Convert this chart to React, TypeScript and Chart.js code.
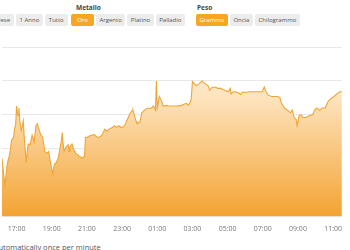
import React, { useEffect, useRef } from "react";
import { Chart, registerables } from "chart.js";

Chart.register(...registerables);

const times: string[] = [
  "16:10","16:15","16:20","16:23","16:27","16:30","16:37","16:40","16:43","16:50","16:53","16:57",
  "17:00","17:03","17:05","17:08","17:11","17:16","17:20","17:23","17:26","17:33","17:36","17:40","17:46","17:50","17:53",
  "18:00","18:06","18:11","18:16","18:23","18:29","18:36","18:43","18:49","18:56",
  "19:03","19:09","19:16","19:22","19:29","19:32","19:36","19:39","19:42","19:49","19:56","19:59",
  "20:02","20:09","20:15","20:22","20:29","20:35","20:45","20:52","20:55",
  "21:02","21:08","21:15","21:25","21:35","21:42","21:51","21:58",
  "22:01","22:08","22:15","22:25","22:35","22:41","22:48","22:58",
  "23:08","23:14","23:21","23:28","23:34","23:37","23:44","23:51","23:54",
  "00:01","00:07","00:17","00:27","00:34","00:40","00:47","00:54","00:57",
  "01:00","01:07","01:14","01:20","01:30","01:40","01:50",
  "02:07","02:23","02:33","02:40","02:46","02:53","02:56",
  "03:00","03:06","03:13","03:23","03:33","03:43","03:53","03:59",
  "04:06","04:19","04:26","04:36","04:46","04:52",
  "05:02","05:09","05:12","05:19","05:25","05:35","05:45","05:52","05:59",
  "06:15","06:32","06:48","06:58",
  "07:05","07:11","07:18","07:31","07:48","07:58",
  "08:04","08:14","08:24","08:34","08:41","08:47","08:54","08:57",
  "09:04","09:11","09:17","09:27","09:40","09:50","09:57",
  "10:04","10:14","10:23","10:33","10:43","10:53",
  "11:03","11:13","11:23","11:30",
];

const prices: number[] = [
  53.36,53.17,52.96,53.06,53.24,53.31,53.43,53.53,53.63,53.67,53.79,53.86,
  54.13,54.03,53.99,54.10,53.91,53.77,53.84,53.91,53.67,53.29,53.46,53.57,53.56,53.64,53.70,
  53.60,53.84,53.87,53.79,53.70,53.67,53.46,53.43,53.46,53.29,
  53.13,53.27,53.30,53.36,53.53,53.60,53.74,53.56,53.46,53.53,53.56,53.46,
  53.53,53.57,53.49,53.43,53.41,53.39,53.36,53.39,53.67,
  53.67,53.69,53.70,53.71,53.67,53.67,53.70,53.76,
  53.79,53.76,53.79,53.81,53.84,53.81,53.84,53.81,
  53.84,53.89,53.96,54.03,54.06,54.07,53.96,53.87,53.89,
  53.89,54.03,54.07,54.10,54.09,54.10,54.13,54.07,54.50,
  54.10,54.27,54.21,54.13,54.14,54.13,54.13,
  54.13,54.14,54.16,54.17,54.14,54.19,54.24,
  54.49,54.46,54.43,54.46,54.50,54.46,54.43,54.36,
  54.40,54.41,54.39,54.39,54.37,54.36,
  54.34,54.39,54.31,54.34,54.34,54.33,54.30,54.34,54.33,
  54.34,54.34,54.34,54.34,
  54.41,54.34,54.29,54.27,54.27,54.26,
  54.17,54.10,54.07,54.03,54.07,53.96,53.93,53.84,
  53.99,54.00,53.96,53.96,53.99,54.00,54.07,
  54.10,54.07,54.10,54.10,54.20,54.24,
  54.27,54.31,54.34,54.34,
];

const xTickHours: number[] = [17, 19, 21, 23, 25, 27, 29, 31, 33, 35];
const rangeButtons: string[] = ["Mese", "1 Anno", "Tutto"];
const metalButtons: string[] = ["Oro", "Argento", "Platino", "Palladio"];
const weightButtons: string[] = ["Grammo", "Oncia", "Chilogrammo"];

function toHours(t: string): number {
  const [h, m] = t.split(":").map(Number);
  const hh = h < 16 ? h + 24 : h;
  return hh + m / 60;
}

const FONT = "'Open Sans', 'Liberation Sans', sans-serif";
const ORANGE = "#f5a623";

function Btn({ label, active }: { label: string; active?: boolean }) {
  return (
    <span
      style={{
        display: "inline-block",
        boxSizing: "border-box",
        height: 12,
        minWidth: 23,
        textAlign: "center",
        lineHeight: "12px",
        padding: "0 3.5px",
        marginRight: 2,
        fontSize: 6,
        borderRadius: 2,
        background: active ? ORANGE : "#ececec",
        color: active ? "#fff" : "#555",
        whiteSpace: "nowrap",
      }}
    >
      {label}
    </span>
  );
}

export default function App() {
  const ref = useRef<HTMLCanvasElement | null>(null);

  useEffect(() => {
    if (!ref.current) return;
    const data = times.map((t, i) => ({ x: toHours(t), y: prices[i] }));
    const chart = new Chart(ref.current, {
      type: "line",
      data: {
        datasets: [
          {
            data,
            borderColor: "#efa535",
            borderWidth: 1.1,
            pointRadius: 0,
            tension: 0,
            fill: "start",
            backgroundColor: (ctx: any) => {
              const area = ctx.chart.chartArea;
              if (!area) return "#f9d29a";
              const g = ctx.chart.ctx.createLinearGradient(0, area.top, 0, area.bottom);
              g.addColorStop(0, "#fef3e2");
              g.addColorStop(0.3, "#fde3bd");
              g.addColorStop(1, "#f3a332");
              return g;
            },
          },
        ],
      },
      options: {
        animation: false,
        responsive: true,
        maintainAspectRatio: false,
        layout: { padding: { top: 3, left: 0, right: 0, bottom: 0 } },
        plugins: { legend: { display: false }, tooltip: { enabled: false } },
        scales: {
          x: {
            type: "linear",
            min: 16.17,
            max: 35.5,
            grid: { display: false, drawTicks: false },
            border: { display: false },
            afterBuildTicks: (axis: any) => {
              axis.ticks = xTickHours.map((v) => ({ value: v }));
            },
            ticks: {
              padding: 8,
              color: "#777",
              font: { size: 7, family: FONT },
              maxRotation: 0,
              autoSkip: false,
              callback: (v: any) => {
                const h = Number(v) % 24;
                return (h < 10 ? "0" + h : "" + h) + ":00";
              },
            },
          },
          y: {
            min: 52.5,
            max: 55.0,
            ticks: { display: false, stepSize: 0.5 },
            grid: { color: "#e8e8e8", drawTicks: false },
            border: { display: false },
          },
        },
      },
    } as any);
    return () => chart.destroy();
  }, []);

  return (
    <div
      style={{
        position: "fixed",
        left: 0,
        top: 0,
        width: 350,
        height: 250,
        overflow: "hidden",
        background: "#fff",
        fontFamily: FONT,
      }}
    >
      <div style={{ position: "absolute", left: -9, top: 14, display: "flex" }}>
        {rangeButtons.map((b) => (
          <Btn key={b} label={b} />
        ))}
      </div>
      <div style={{ position: "absolute", left: 76, top: 3, fontSize: 6.5, fontWeight: 700, color: "#444" }}>
        Metallo
      </div>
      <div style={{ position: "absolute", left: 71, top: 14, display: "flex" }}>
        {metalButtons.map((b, i) => (
          <Btn key={b} label={b} active={i === 0} />
        ))}
      </div>
      <div style={{ position: "absolute", left: 197, top: 3, fontSize: 6.5, fontWeight: 700, color: "#444" }}>
        Peso
      </div>
      <div style={{ position: "absolute", left: 196, top: 14, display: "flex" }}>
        {weightButtons.map((b, i) => (
          <Btn key={b} label={b} active={i === 0} />
        ))}
      </div>
      <div style={{ position: "absolute", left: 0, top: 44, width: 350, height: 197 }}>
        <canvas ref={ref} />
      </div>
      <div
        style={{
          position: "absolute",
          left: -38,
          top: 242,
          fontSize: 7.5,
          color: "#555",
          whiteSpace: "nowrap",
        }}
      >
        Updated automatically once per minute
      </div>
    </div>
  );
}
